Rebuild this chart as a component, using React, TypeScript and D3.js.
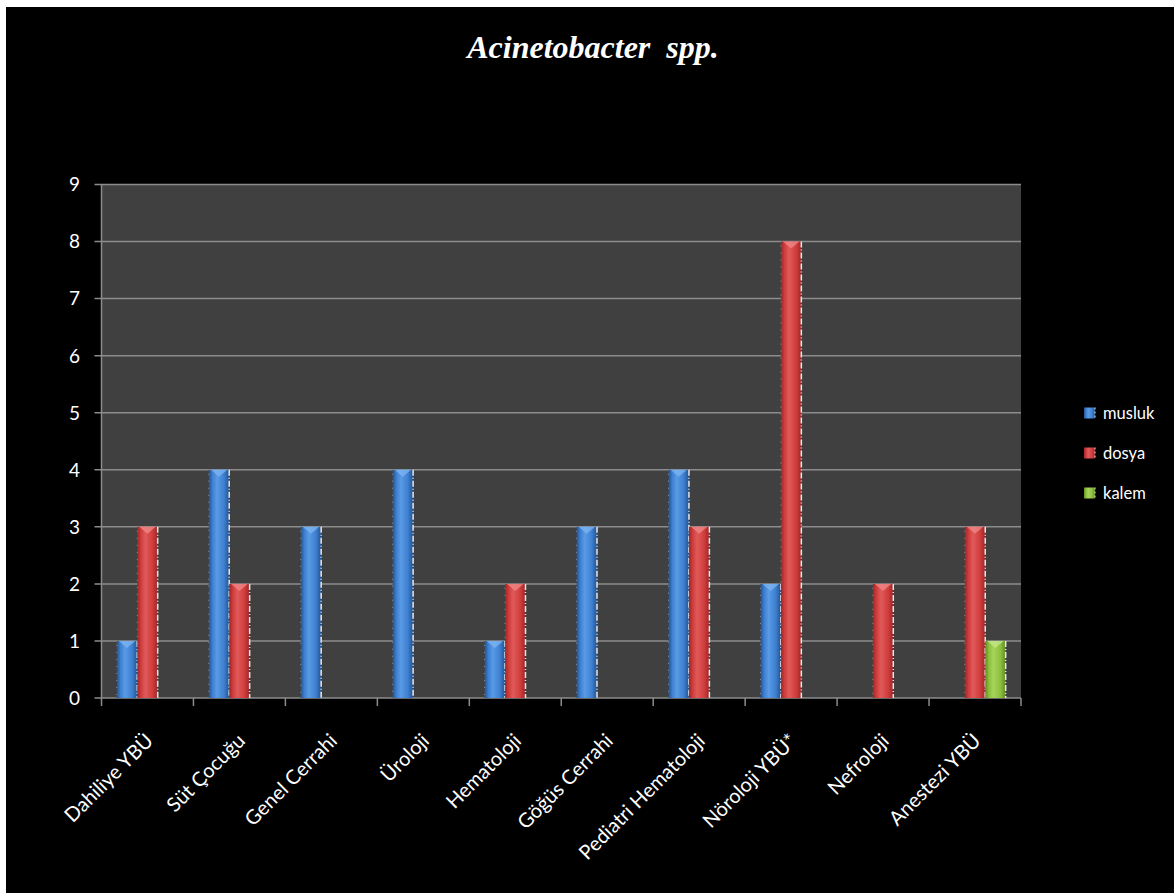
import React from "react";
import * as d3 from "d3";

const categories = [
  "Dahiliye YBÜ",
  "Süt Çocuğu",
  "Genel Cerrahi",
  "Üroloji",
  "Hematoloji",
  "Göğüs Cerrahi",
  "Pediatri Hematoloji",
  "Nöroloji YBÜ*",
  "Nefroloji",
  "Anestezi YBÜ",
];
const seriesNames = ["musluk", "dosya", "kalem"];
const musluk = [1, 4, 3, 4, 1, 3, 4, 2, 0, 0];
const dosya = [3, 2, 0, 0, 2, 0, 3, 8, 2, 3];
const kalem = [0, 0, 0, 0, 0, 0, 0, 0, 0, 1];
const yTicks = [0, 1, 2, 3, 4, 5, 6, 7, 8, 9];
const titleText = "Acinetobacter  spp.";

const seriesValues = [musluk, dosya, kalem];
const colors = [
  { dark: "#24528c", mid: "#3d7fd0", light: "#5a9be6", cap: "#7fb6f2" },
  { dark: "#9a2626", mid: "#d03c3c", light: "#e05a5a", cap: "#f08a8a" },
  { dark: "#5e8a22", mid: "#8cbf3f", light: "#a6d45a", cap: "#c4e88a" },
];

const W = 1174;
const H = 893;
const plotLeft = 101.5;
const plotRight = 1021;
const plotTop = 184.5;
const plotBottom = 698;
const font = "Lato, 'Open Sans', sans-serif";

export default function App() {
  const x = d3.scaleBand<string>().domain(categories).range([plotLeft, plotRight]).paddingInner(0).paddingOuter(0);
  const xs = d3.scaleBand<string>().domain(seriesNames).range([0, x.bandwidth()]).paddingInner(0).paddingOuter(0.75);
  const y = d3.scaleLinear().domain([0, 9]).range([plotBottom, plotTop]);
  const bw = xs.bandwidth();
  const boundaries = d3.range(categories.length + 1).map((i) => plotLeft + i * x.bandwidth());

  return (
    <svg width={W} height={H} style={{ position: "absolute", left: 0, top: 0, display: "block", background: "#fff" }}>
      <defs>
        {colors.map((c, i) => (
          <linearGradient key={i} id={`g${i}`} x1="0" x2="1" y1="0" y2="0">
            <stop offset="0%" stopColor={c.dark} />
            <stop offset="18%" stopColor={c.mid} />
            <stop offset="40%" stopColor={c.light} />
            <stop offset="75%" stopColor={c.mid} />
            <stop offset="100%" stopColor={c.dark} />
          </linearGradient>
        ))}
      </defs>
      <rect x={6} y={7} width={W - 6} height={H - 7} fill="#000" />
      <text
        x={593}
        y={58}
        textAnchor="middle"
        fill="#fff"
        fontFamily="'Liberation Serif', 'Times New Roman', serif"
        fontStyle="italic"
        fontWeight="bold"
        fontSize={32}
        style={{ whiteSpace: "pre" }}
      >
        {titleText}
      </text>
      <rect x={plotLeft} y={plotTop} width={plotRight - plotLeft} height={plotBottom - plotTop} fill="#404040" />
      {yTicks.map((t) => (
        <g key={t}>
          <line x1={plotLeft - 7} x2={plotRight} y1={y(t)} y2={y(t)} stroke="#8c8c8c" strokeWidth={1.5} />
          <text x={80} y={y(t)} dy="0.36em" textAnchor="end" fill="#fff" fontFamily={font} fontSize={19}>
            {t}
          </text>
        </g>
      ))}
      <line x1={plotLeft} x2={plotLeft} y1={plotTop} y2={plotBottom} stroke="#8c8c8c" strokeWidth={1.5} />
      {boundaries.map((bx, i) => (
        <line key={i} x1={bx} x2={bx} y1={plotBottom} y2={plotBottom + 8} stroke="#8c8c8c" strokeWidth={1.5} />
      ))}
      {categories.map((c, ci) => (
        <g key={c}>
          {seriesNames.map((s, si) => {
            const v = seriesValues[si][ci];
            if (!v) return null;
            const bx = (x(c) as number) + (xs(s) as number);
            const by = y(v);
            const bh = plotBottom - by;
            return (
              <g key={s}>
                <rect x={bx} y={by} width={bw} height={bh} fill={`url(#g${si})`} />
                <path
                  d={`M${bx + 2},${by} L${bx + bw - 2},${by} L${bx + bw / 2},${by + 7} Z`}
                  fill={colors[si].cap}
                  opacity={0.75}
                />
                <line
                  x1={bx + bw}
                  x2={bx + bw}
                  y1={by}
                  y2={plotBottom}
                  stroke="#e8e8e8"
                  strokeWidth={1.5}
                  strokeDasharray="6 2 1 2"
                />
                <line
                  x1={bx}
                  x2={bx}
                  y1={by + 4}
                  y2={plotBottom}
                  stroke="#cfcfcf"
                  strokeWidth={0.8}
                  strokeDasharray="1 6"
                  opacity={0.7}
                />
              </g>
            );
          })}
          <text
            transform={`translate(${(x(c) as number) + x.bandwidth() / 2 + 7},742) rotate(-45)`}
            textAnchor="end"
            fill="#fff"
            fontFamily={font}
            fontSize={20}
          >
            {c}
          </text>
        </g>
      ))}
      {seriesNames.map((s, i) => (
        <g key={s} transform={`translate(1084,${413 + i * 40})`}>
          <rect x={0} y={-5.5} width={11} height={11} fill={`url(#g${i})`} />
          <line x1={11} x2={11} y1={-5.5} y2={5.5} stroke="#e8e8e8" strokeWidth={1} strokeDasharray="2 2" />
          <text x={19} y={0} dy="0.36em" fill="#fff" fontFamily={font} fontSize={16.5}>
            {s}
          </text>
        </g>
      ))}
    </svg>
  );
}
